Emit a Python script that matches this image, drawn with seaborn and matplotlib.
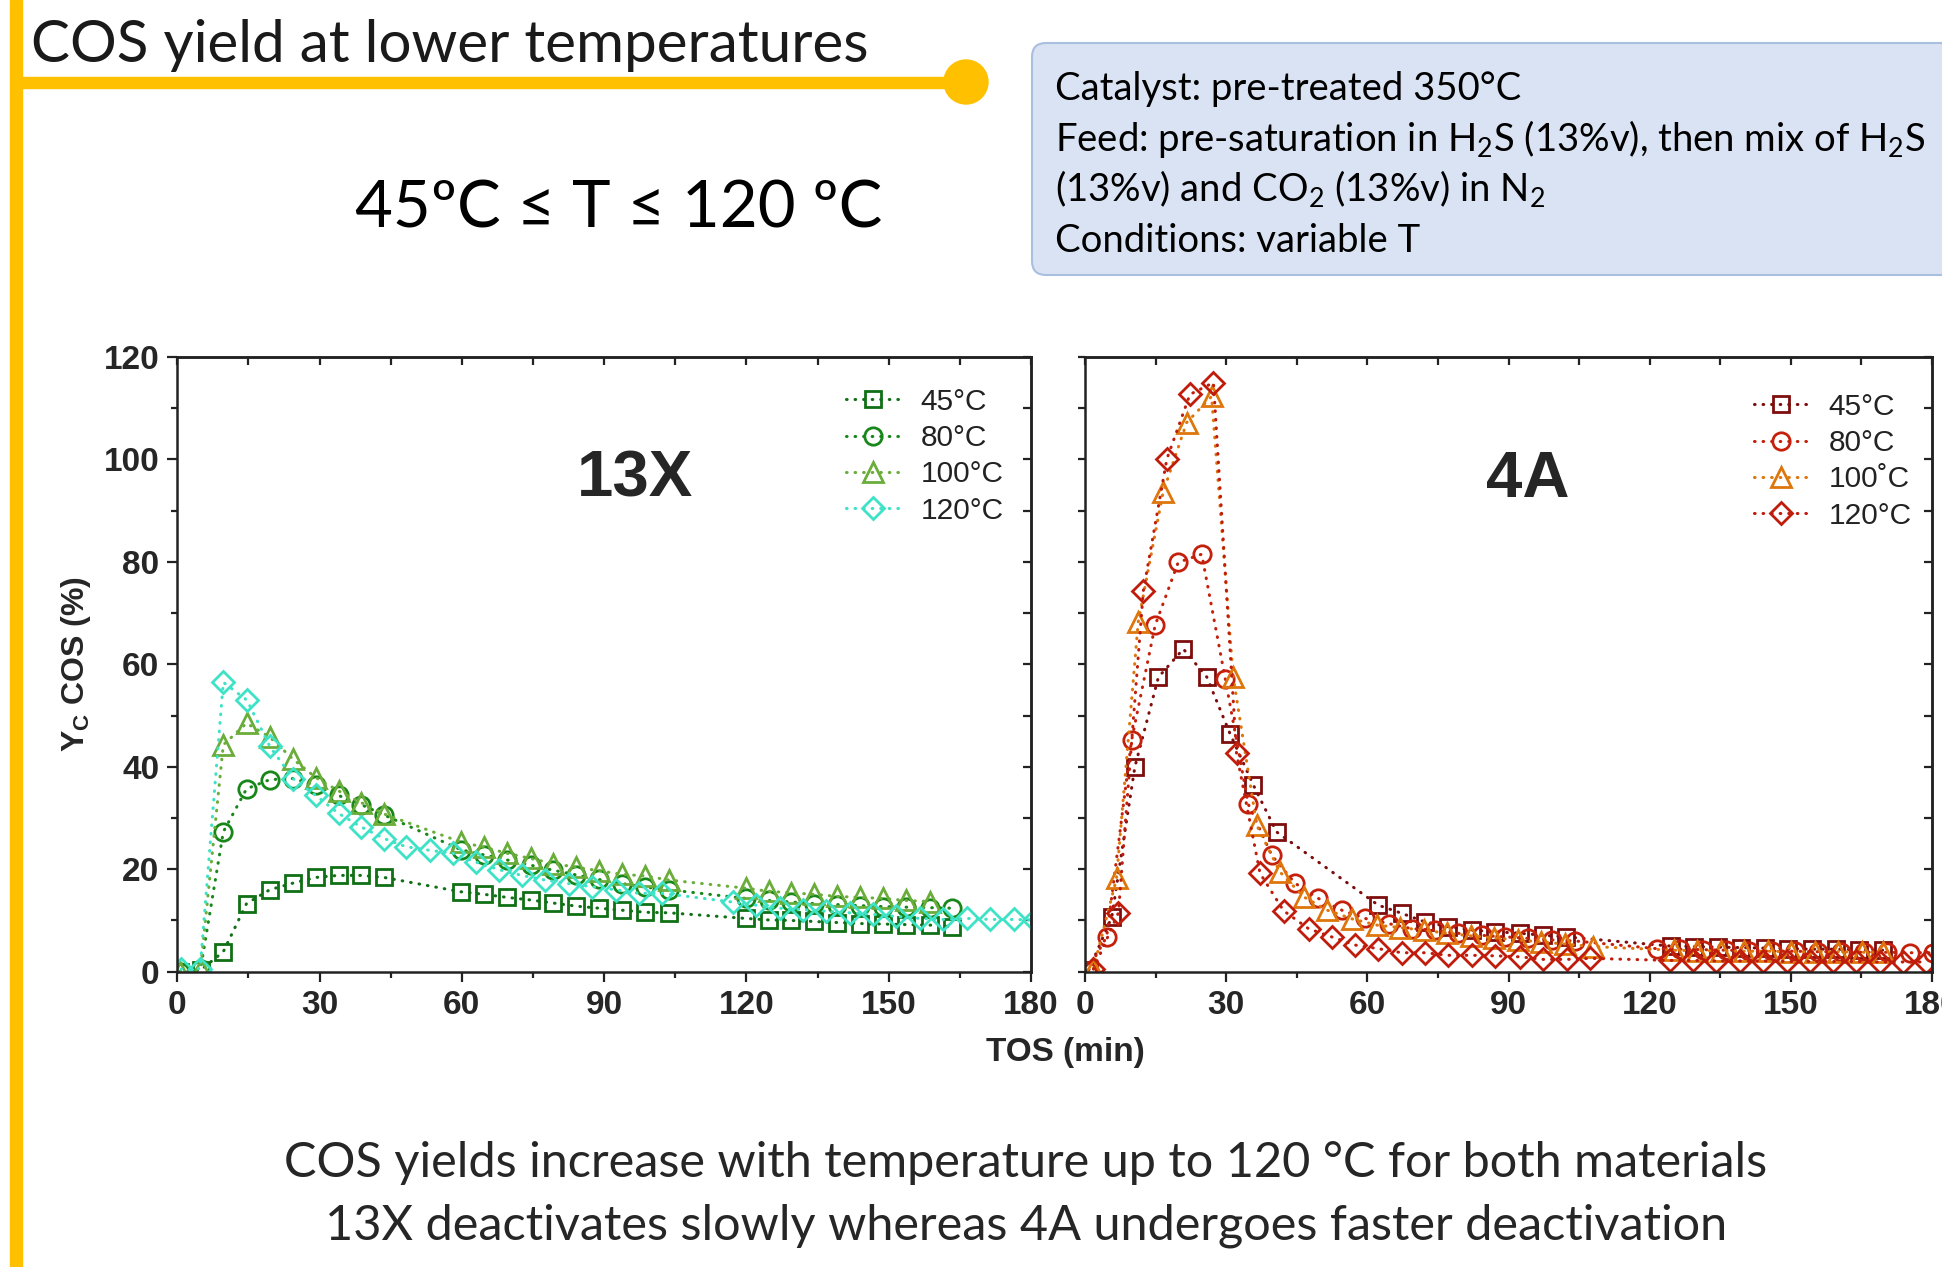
import numpy as np
import pandas as pd
import matplotlib
matplotlib.use('Agg')
import matplotlib.pyplot as plt
import seaborn as sns
from matplotlib.patches import Rectangle, Ellipse, FancyBboxPatch
from matplotlib.transforms import IdentityTransform
from matplotlib.ticker import MultipleLocator

# ---- 13X data (TOS in min, Yc COS in %) ----
t45_13x = [0.5, 4.9, 9.7, 14.6, 19.5, 24.4, 29.2, 34.0, 38.8, 43.6, 59.8, 64.7, 69.6, 74.5, 79.3,
           84.1, 88.9, 93.8, 98.7, 103.6, 119.9, 124.7, 129.5, 134.3, 139.2, 144.0, 148.9, 153.7,
           158.6, 163.4]
y45_13x = [0.0, 0.3, 3.9, 13.3, 16.0, 17.3, 18.4, 18.8, 18.8, 18.4, 15.6, 15.1, 14.5, 14.0, 13.4,
           12.8, 12.4, 12.0, 11.6, 11.5, 10.4, 10.1, 10.0, 9.8, 9.6, 9.4, 9.3, 9.2, 9.1, 8.8]
t80_13x = t45_13x
y80_13x = [0.0, 0.5, 27.3, 35.7, 37.5, 37.7, 36.4, 34.4, 32.6, 30.6, 23.8, 22.8, 21.8, 20.8, 19.8,
           18.9, 18.0, 17.2, 16.5, 16.0, 14.3, 13.9, 13.6, 13.3, 13.1, 12.9, 12.7, 12.6, 12.5, 12.4]
t100_13x = t45_13x[:-1]
y100_13x = [0.0, 0.6, 44.3, 48.5, 45.8, 41.5, 37.9, 35.3, 33.0, 30.8, 25.3, 24.3, 23.1, 22.1, 21.1,
            20.4, 19.7, 19.0, 18.7, 17.9, 16.3, 15.7, 15.4, 15.1, 14.7, 14.5, 14.3, 13.9, 13.7]
t120_13x = [0.8, 4.8, 9.7, 14.7, 19.5, 24.4, 29.2, 34.0, 38.7, 43.6, 48.2, 53.2, 58.1, 62.9, 67.9,
            72.6, 77.5, 82.5, 87.4, 92.4, 97.3, 102.3, 117.1, 122.0, 127.0, 131.9, 136.8, 141.8,
            146.7, 151.6, 156.6, 161.5, 166.5, 171.4, 176.4, 180.6]
y120_13x = [0.5, 0.6, 56.5, 53.0, 44.0, 37.7, 34.4, 30.9, 28.3, 26.0, 24.4, 23.7, 23.1, 21.4, 19.9,
            18.8, 17.9, 17.2, 16.6, 16.0, 15.3, 15.3, 13.6, 13.0, 12.4, 12.1, 11.8, 11.5, 11.2,
            10.8, 10.4, 10.2, 10.4, 10.2, 10.2, 10.1]

# ---- 4A data ----
t45_4a = [0.8, 5.7, 10.6, 15.6, 20.9, 25.9, 30.8, 35.8, 40.7, 62.3, 67.3, 72.3, 77.2, 82.2, 87.1,
          92.5, 97.4, 102.3, 124.5, 129.5, 134.5, 139.5, 144.5, 149.5, 154.5, 159.5, 164.5, 169.5]
y45_4a = [0.3, 10.7, 40.0, 57.5, 63.0, 57.5, 46.5, 36.4, 27.3, 13.0, 11.4, 9.7, 8.8, 8.1, 7.8,
          7.5, 7.1, 6.8, 5.0, 4.9, 4.8, 4.7, 4.6, 4.5, 4.4, 4.4, 4.3, 4.2]
t80_4a = [0.5, 4.6, 9.9, 14.9, 19.8, 24.8, 29.8, 34.7, 39.7, 44.6, 49.6, 54.6, 59.5, 64.5, 69.4,
          74.4, 79.3, 84.3, 89.3, 94.2, 99.2, 104.1, 121.5, 126.4, 131.3, 136.2, 141.1, 146.0,
          150.9, 155.8, 160.7, 165.6, 170.5, 175.4, 180.3]
y80_4a = [0.2, 6.8, 45.2, 67.6, 79.9, 81.5, 57.2, 32.7, 22.7, 17.3, 14.3, 12.0, 10.4, 9.4, 8.4,
          8.1, 7.5, 7.1, 6.8, 6.5, 6.2, 6.0, 4.5, 4.4, 4.3, 4.2, 4.1, 4.0, 4.0, 3.9, 3.9, 3.8,
          3.8, 3.7, 3.7]
t100_4a = [1.8, 6.7, 11.3, 16.6, 21.6, 26.9, 31.5, 36.5, 41.4, 46.5, 51.5, 56.8, 62.0, 67.0, 72.0,
           77.0, 82.0, 87.0, 92.0, 97.0, 102.0, 108.0, 125.1, 130.1, 135.1, 140.1, 145.1, 150.1,
           155.1, 160.1, 165.1, 169.6]
y100_4a = [0.6, 18.2, 68.2, 93.6, 107.2, 112.3, 57.5, 28.6, 19.5, 14.6, 12.0, 10.3, 9.1, 8.6, 8.1,
           7.5, 7.0, 6.6, 6.2, 5.8, 5.4, 4.9, 4.2, 4.1, 4.1, 4.0, 4.0, 3.9, 3.9, 3.9, 3.8, 3.8]
t120_4a = [1.8, 7.1, 12.4, 17.4, 22.3, 27.3, 32.2, 37.2, 42.2, 47.5, 52.4, 57.4, 62.3, 67.3, 72.3,
           77.2, 82.2, 87.1, 92.5, 97.4, 102.4, 107.4, 124.3, 129.3, 134.2, 139.2, 144.1, 149.1,
           154.0, 159.0, 163.9, 168.9, 173.8, 178.8]
y120_4a = [0.5, 11.5, 74.4, 100.1, 112.7, 115.0, 42.6, 19.2, 11.9, 8.4, 6.8, 5.2, 4.5, 3.7, 3.7,
           3.2, 3.2, 3.1, 2.9, 2.4, 2.4, 2.6, 2.2, 2.2, 2.1, 2.1, 2.1, 2.0, 2.0, 2.0, 2.0, 1.9,
           1.9, 1.9]

labels_13x = ['45°C', '80°C', '100°C', '120°C']
labels_4a = ['45°C', '80°C', '100˚C', '120°C']
markers = ['s', 'o', '^', 'D']
msizes = [12, 12.5, 15, 11]
colors_13x = ['#0f7015', '#17871a', '#6aad3a', '#3ee2c6']
colors_4a = ['#7e0d0d', '#c4200c', '#de760c', '#bf1c0c']

data_13x = [(t45_13x, y45_13x), (t80_13x, y80_13x), (t100_13x, y100_13x), (t120_13x, y120_13x)]
data_4a = [(t45_4a, y45_4a), (t80_4a, y80_4a), (t100_4a, y100_4a), (t120_4a, y120_4a)]

sns.set_style('ticks')
plt.rcParams['font.family'] = ['Liberation Sans', 'DejaVu Sans']
slide_font = ['Lato', 'DejaVu Sans']

W, H = 1942, 1267
fig = plt.figure(figsize=(W / 100, H / 100), dpi=100)


def fx(px):
    return px / W


def fy(py):
    return 1 - py / H


gold = '#FFC000'
fig.add_artist(Rectangle((fx(10), 0), fx(12), 1, transform=fig.transFigure, color=gold, zorder=5))
fig.add_artist(Rectangle((fx(22), fy(88)), fx(944), 11 / H, transform=fig.transFigure,
                         color=gold, zorder=5))
fig.add_artist(Ellipse((fx(966), fy(82)), 44 / W, 44 / H, transform=fig.transFigure,
                       color=gold, zorder=5))

fig.text(fx(31), fy(62), 'COS yield at lower temperatures', fontsize=42,
         fontfamily=slide_font, color='#1a1a1a', ha='left', va='baseline')
fig.text(fx(619), fy(227), '45ºC ≤ T ≤ 120 ºC', fontsize=47,
         fontfamily=slide_font, color='black', ha='center', va='baseline')

box = FancyBboxPatch((1032, H - 275), 1000, 232, boxstyle='round,pad=0,rounding_size=14',
                     transform=IdentityTransform(), facecolor='#dae3f3', edgecolor='#a9bfe0',
                     linewidth=1.5, zorder=1)
fig.add_artist(box)
info_lines = ['Catalyst: pre-treated 350°C',
              r'Feed: pre-saturation in H$_\mathregular{2}$S (13%v), then mix of H$_\mathregular{2}$S',
              r'(13%v) and CO$_\mathregular{2}$ (13%v) in N$_\mathregular{2}$',
              'Conditions: variable T']
for i, line in enumerate(info_lines):
    fig.text(fx(1055), fy(100 + 50.8 * i), line, fontsize=27.5, fontfamily=slide_font,
             color='black', ha='left', va='baseline', zorder=2)

fig.text(fx(1026), fy(1177), 'COS yields increase with temperature up to 120 °C for both materials',
         fontsize=35, fontfamily=slide_font, ha='center', va='baseline')
fig.text(fx(1026), fy(1240), '13X deactivates slowly whereas 4A undergoes faster deactivation',
         fontsize=35, fontfamily=slide_font, ha='center', va='baseline')

ax1 = fig.add_axes([fx(177.3), fy(971.7), (1031 - 177.3) / W, (971.7 - 357) / H])
ax2 = fig.add_axes([fx(1085), fy(971.7), (1932 - 1085) / W, (971.7 - 357) / H])

panels = [(ax1, data_13x, labels_13x, colors_13x, '13X', 0.536, 0.783, 0.950),
          (ax2, data_4a, labels_4a, colors_4a, '4A', 0.523, 0.790, 0.942)]

for ax, data, labels, colors, name, nx, lx, ly in panels:
    for (t, y), lab, m, ms, c in zip(data, labels, markers, msizes, colors):
        df = pd.DataFrame({'TOS': t, 'Y': y})
        sns.lineplot(data=df, x='TOS', y='Y', ax=ax, color=c, marker=m, markersize=ms,
                     markerfacecolor='none', markeredgecolor=c, markeredgewidth=2.0,
                     linestyle=(0, (0.2, 2.6)), linewidth=2.2, dash_capstyle='round',
                     errorbar=None, legend=False, label=lab)
    ax.set_xlim(0, 180)
    ax.set_ylim(0, 120)
    ax.set_xlabel('')
    ax.set_ylabel('')
    ax.xaxis.set_major_locator(MultipleLocator(30))
    ax.xaxis.set_minor_locator(MultipleLocator(15))
    for sp in ax.spines.values():
        sp.set_visible(True)
        sp.set_linewidth(1.8)
        sp.set_color('#222222')
    ax.tick_params(axis='both', which='major', direction='out', length=7, width=1.6,
                   color='#222222', labelsize=24, pad=6)
    ax.tick_params(axis='both', which='minor', direction='out', length=4, width=1.6,
                   color='#222222')
    top = ax.secondary_xaxis('top')
    top.xaxis.set_major_locator(MultipleLocator(15))
    top.tick_params(direction='in', length=6, width=1.6, color='#222222', labeltop=False)
    top.spines['top'].set_linewidth(1.8)
    right = ax.secondary_yaxis('right')
    right.yaxis.set_major_locator(MultipleLocator(10))
    right.tick_params(direction='in', length=6, width=1.6, color='#222222', labelright=False)
    right.spines['right'].set_linewidth(1.8)

    ax.text(nx, 0.80, name, transform=ax.transAxes, fontsize=47,
            fontweight='bold', ha='center', va='center')

    handles, labs = ax.get_legend_handles_labels()
    leg = ax.legend(handles, labs, loc='upper left', bbox_to_anchor=(lx, ly), frameon=False,
                    fontsize=21.5, handlelength=1.8, handletextpad=0.7, labelspacing=0.28,
                    borderaxespad=0, borderpad=0)
    for txt in leg.get_texts():
        txt.set_color('#222222')

ax1.yaxis.set_major_locator(MultipleLocator(20))
ax1.yaxis.set_minor_locator(MultipleLocator(10))
ax2.yaxis.set_major_locator(MultipleLocator(10))
ax2.tick_params(axis='y', which='major', length=5, labelleft=False)

for ax in (ax1, ax2):
    for lbl in ax.get_xticklabels() + ax.get_yticklabels():
        lbl.set_fontweight('bold')

ax1.set_ylabel(r'Y$_\mathregular{C}$ COS (%)', fontsize=23, fontweight='bold')
ax1.yaxis.set_label_coords((93 - 177.3) / 853.7, 0.5)
fig.text(fx(1065), fy(1053), 'TOS (min)', fontsize=24, fontweight='bold', ha='center',
         va='center')

fig.savefig('out.png', dpi=100)
